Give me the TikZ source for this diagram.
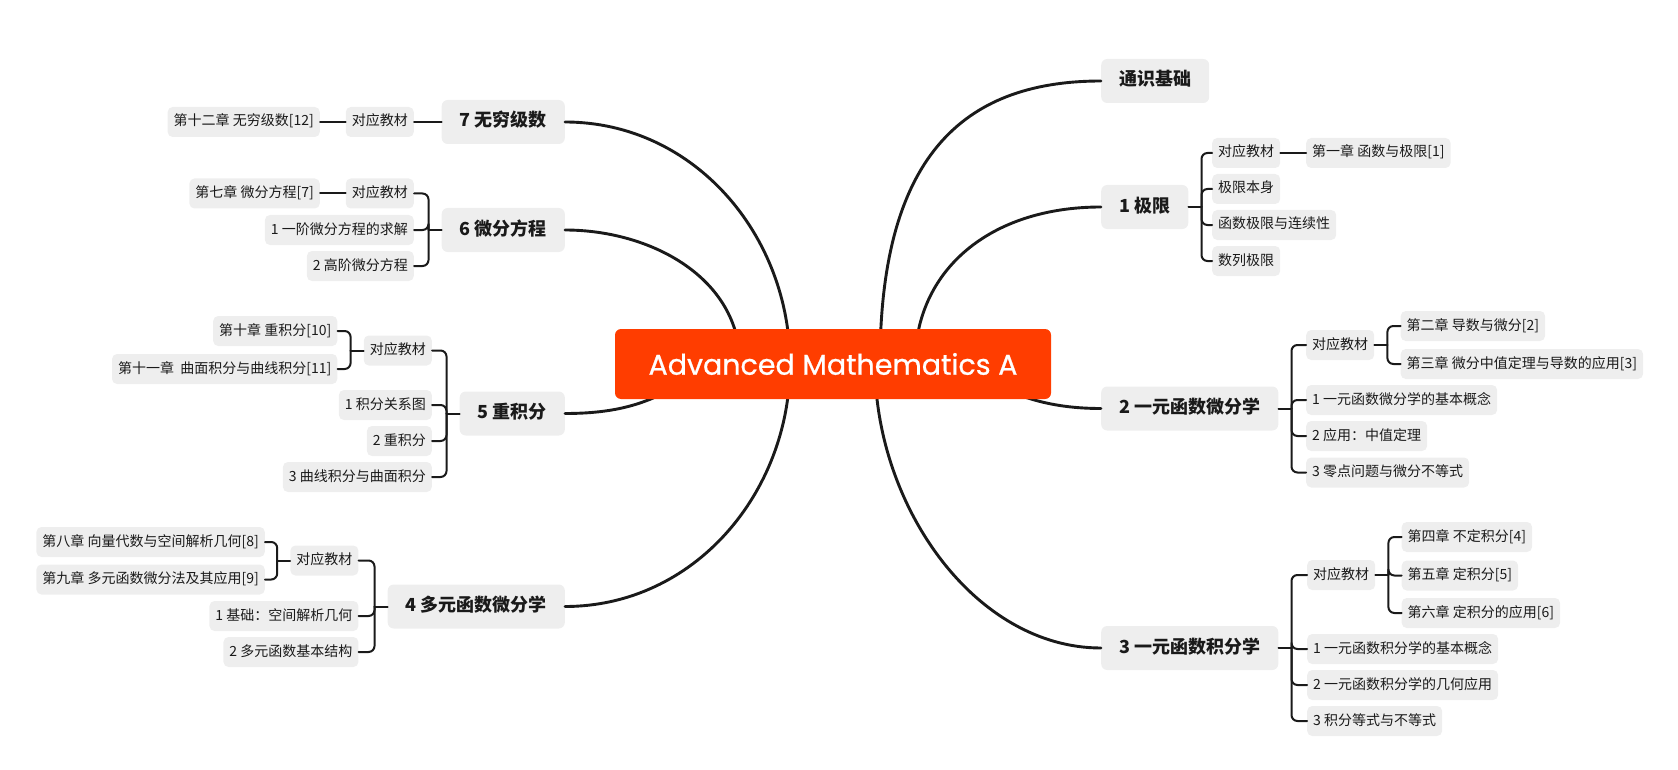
\documentclass[tikz,border=0pt]{standalone}
\usepackage{fontspec}
\setmainfont{Noto Sans CJK SC}
\newfontfamily\titlefont{Poppins}[FakeBold=0.8]
\definecolor{rootred}{HTML}{FF3D00}
\definecolor{boxgray}{HTML}{EEEEEE}
\definecolor{inkline}{HTML}{1A1A1A}

\begin{document}
\begin{tikzpicture}[x=1pt,y=-1pt,line join=round,line cap=round,
	topic/.style={fill=boxgray,rounded corners=6pt,inner xsep=18pt,minimum height=44pt,text height=14pt,text depth=4pt,text=inkline,font=\fontsize{18}{20}\selectfont\bfseries},
	leaf/.style={fill=boxgray,rounded corners=5pt,inner xsep=6pt,minimum height=30pt,text height=11pt,text depth=3pt,text=inkline,font=\fontsize{14}{16}\selectfont},
	branch/.style={draw=inkline,line width=2.9pt},
	twig/.style={draw=inkline,line width=2pt,rounded corners=6pt}]
	\useasboundingbox (0,0) rectangle (1678,770);
	
	% left side
	\node[topic,anchor=east] (n7) at (565,122) {7 无穷级数};
	\node[leaf,anchor=east] (t7) at (414,122) {对应教材};
	\node[leaf,anchor=east] (c12) at (320,122) {第十二章 无穷级数[12]};
	
	\node[topic,anchor=east] (n6) at (565,230) {6 微分方程};
	\node[leaf,anchor=east] (t6) at (414,193.5) {对应教材};
	\node[leaf,anchor=east] (c7) at (320,193.5) {第七章 微分方程[7]};
	\node[leaf,anchor=east] (n6a) at (414,230) {1 一阶微分方程的求解};
	\node[leaf,anchor=east] (n6b) at (414,266) {2 高阶微分方程};
	
	\node[topic,anchor=east] (n5) at (565,413.5) {5 重积分};
	\node[leaf,anchor=east] (t5) at (432,350.5) {对应教材};
	\node[leaf,anchor=east] (c10) at (337.5,331) {第十章 重积分[10]};
	\node[leaf,anchor=east] (c11) at (337.5,369) {第十一章~~曲面积分与曲线积分[11]};
	\node[leaf,anchor=east] (n5a) at (432,405) {1 积分关系图};
	\node[leaf,anchor=east] (n5b) at (432,441) {2 重积分};
	\node[leaf,anchor=east] (n5c) at (432,477) {3 曲线积分与曲面积分};
	
	\node[topic,anchor=east] (n4) at (565,606.5) {4 多元函数微分学};
	\node[leaf,anchor=east] (t4) at (358.6,560.5) {对应教材};
	\node[leaf,anchor=east] (c8) at (265,542) {第八章 向量代数与空间解析几何[8]};
	\node[leaf,anchor=east] (c9) at (265,579.5) {第九章 多元函数微分法及其应用[9]};
	\node[leaf,anchor=east] (n4a) at (358.6,616) {1 基础：空间解析几何};
	\node[leaf,anchor=east] (n4b) at (358.6,652) {2 多元函数基本结构};
	
	% right side
	\node[topic,anchor=west] (n0) at (1101,81) {通识基础};
	
	\node[topic,anchor=west] (n1) at (1101,207) {1 极限};
	\node[leaf,anchor=west] (t1) at (1212,153) {对应教材};
	\node[leaf,anchor=west] (c1) at (1306,153) {第一章 函数与极限[1]};
	\node[leaf,anchor=west] (n1a) at (1212,189) {极限本身};
	\node[leaf,anchor=west] (n1b) at (1212,225) {函数极限与连续性};
	\node[leaf,anchor=west] (n1c) at (1212,261) {数列极限};
	
	\node[topic,anchor=west] (n2) at (1101,408.5) {2 一元函数微分学};
	\node[leaf,anchor=west] (t2) at (1306,345) {对应教材};
	\node[leaf,anchor=west] (c2) at (1400.5,326) {第二章 导数与微分[2]};
	\node[leaf,anchor=west] (c3) at (1400.5,364) {第三章 微分中值定理与导数的应用[3]};
	\node[leaf,anchor=west] (n2a) at (1306,400) {1 一元函数微分学的基本概念};
	\node[leaf,anchor=west] (n2b) at (1306,436) {2 应用：中值定理};
	\node[leaf,anchor=west] (n2c) at (1306,472.5) {3 零点问题与微分不等式};
	
	\node[topic,anchor=west] (n3) at (1101,648) {3 一元函数积分学};
	\node[leaf,anchor=west] (t3) at (1307,575) {对应教材};
	\node[leaf,anchor=west] (c4) at (1401.5,537) {第四章 不定积分[4]};
	\node[leaf,anchor=west] (c5) at (1401.5,575.5) {第五章 定积分[5]};
	\node[leaf,anchor=west] (c6) at (1401.5,613) {第六章 定积分的应用[6]};
	\node[leaf,anchor=west] (n3a) at (1307,649) {1 一元函数积分学的基本概念};
	\node[leaf,anchor=west] (n3b) at (1307,685) {2 一元函数积分学的几何应用};
	\node[leaf,anchor=west] (n3c) at (1307,721) {3 积分等式与不等式};
	
	% brackets
	\draw[twig] (n7.west) -- (t7.east);
	\draw[twig] (t7.west) -- (c12.east);
	
	\draw[twig] (n6.west) -- ++(-13,0) coordinate (b6);
	\draw[twig] (b6) |- (t6.east);
	\draw[twig] (b6) |- (n6a.east);
	\draw[twig] (b6) |- (n6b.east);
	\draw[twig] (t6.west) -- (c7.east);
	
	\draw[twig] (n5.west) -- ++(-13,0) coordinate (b5);
	\draw[twig] (b5) |- (t5.east);
	\draw[twig] (b5) |- (n5a.east);
	\draw[twig] (b5) |- (n5b.east);
	\draw[twig] (b5) |- (n5c.east);
	\draw[twig] (t5.west) -- ++(-13,0) coordinate (bt5);
	\draw[twig] (bt5) |- (c10.east);
	\draw[twig] (bt5) |- (c11.east);
	
	\draw[twig] (n4.west) -- ++(-13,0) coordinate (b4);
	\draw[twig] (b4) |- (t4.east);
	\draw[twig] (b4) |- (n4a.east);
	\draw[twig] (b4) |- (n4b.east);
	\draw[twig] (t4.west) -- ++(-13,0) coordinate (bt4);
	\draw[twig] (bt4) |- (c8.east);
	\draw[twig] (bt4) |- (c9.east);
	
	\draw[twig] (n1.east) -- ++(13,0) coordinate (b1);
	\draw[twig] (b1) |- (t1.west);
	\draw[twig] (b1) |- (n1a.west);
	\draw[twig] (b1) |- (n1b.west);
	\draw[twig] (b1) |- (n1c.west);
	\draw[twig] (t1.east) -- (c1.west);
	
	\draw[twig] (n2.east) -- ++(13,0) coordinate (b2);
	\draw[twig] (b2) |- (t2.west);
	\draw[twig] (b2) |- (n2a.west);
	\draw[twig] (b2) |- (n2b.west);
	\draw[twig] (b2) |- (n2c.west);
	\draw[twig] (t2.east) -- ++(13,0) coordinate (bt2);
	\draw[twig] (bt2) |- (c2.west);
	\draw[twig] (bt2) |- (c3.west);
	
	\draw[twig] (n3.east) -- ++(13,0) coordinate (b3);
	\draw[twig] (b3) |- (t3.west);
	\draw[twig] (b3) |- (n3a.west);
	\draw[twig] (b3) |- (n3b.west);
	\draw[twig] (b3) |- (n3c.west);
	\draw[twig] (t3.east) -- ++(13,0) coordinate (bt3);
	\draw[twig] (bt3) |- (c4.west);
	\draw[twig] (bt3) |- (c5.west);
	\draw[twig] (bt3) |- (c6.west);
	
	% main branches, hidden ends under the root
	\coordinate (s7) at (790,364);
	\coordinate (s6) at (740,364);
	\coordinate (s5) at (700,370);
	\coordinate (s4) at (790,364);
	\coordinate (s0) at (880,364);
	\coordinate (s1) at (915,364);
	\coordinate (s2) at (965,368);
	\coordinate (s3) at (875,364);
	\draw[branch] (s7) .. controls (790,235) and (694,122) .. (n7.east);
	\draw[branch] (s6) .. controls (740,278) and (651,230) .. (n6.east);
	\draw[branch] (s5) .. controls (660,400) and (625,413.5) .. (n5.east);
	\draw[branch] (s4) .. controls (790,493) and (694,606.5) .. (n4.east);
	\draw[branch] (s0) .. controls (880,160) and (960,81) .. (n0.west);
	\draw[branch] (s1) .. controls (915,270) and (990,207) .. (n1.west);
	\draw[branch] (s2) .. controls (1005,392) and (1041,408.5) .. (n2.west);
	\draw[branch] (s3) .. controls (875,506) and (975,648) .. (n3.west);
	
	\node[fill=rootred,rounded corners=6pt,minimum width=436pt,minimum height=70pt,text=white,font=\titlefont\fontsize{28.5}{32}\selectfont] (root) at (833,364) {Advanced Mathematics A};
\end{tikzpicture}
\end{document}
